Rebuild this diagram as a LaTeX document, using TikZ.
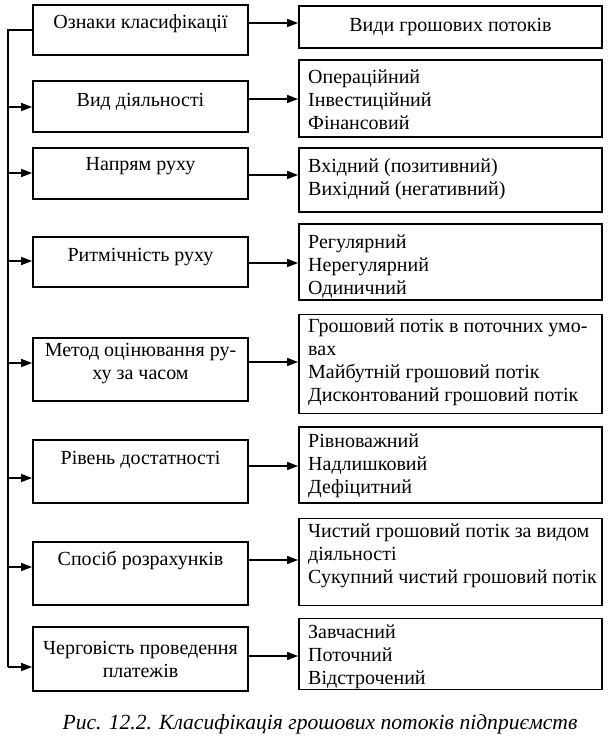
\documentclass[tikz,border=0pt]{standalone}
\usepackage{fontspec}
\setmainfont{Liberation Serif}
\usetikzlibrary{arrows.meta}
\newcommand\dfont{\fontsize{20}{23}\selectfont}
\newcommand\capfont{\fontsize{21.6}{25}\selectfont\itshape}
\begin{document}
\begin{tikzpicture}[x=1pt,y=-1pt,
  box/.style={draw, line width=1.8pt, inner sep=0pt},
  lbox/.style={box, minimum width=215pt},
  rbox/.style={box, minimum width=303pt},
  ltext/.style={font=\dfont, align=center, inner sep=0pt, anchor=north},
  rtext/.style={font=\dfont, align=left, inner sep=0pt, anchor=north west},
  arr/.style={line width=1.5pt, -{Triangle[length=11pt,width=8pt]}},
  ln/.style={line width=1.5pt}]
\useasboundingbox (0,0) rectangle (612,748);
% left boxes
\node[lbox, minimum height=50pt] (l1) at (140.5,30) {};
\node[lbox, minimum height=51pt] (l2) at (140.5,106.5) {};
\node[lbox, minimum height=51pt] (l3) at (140.5,173.5) {};
\node[lbox, minimum height=50pt] (l4) at (140.5,262) {};
\node[lbox, minimum height=63pt] (l5) at (140.5,369.5) {};
\node[lbox, minimum height=63pt] (l6) at (140.5,471.5) {};
\node[lbox, minimum height=63pt] (l7) at (140.5,573.5) {};
\node[lbox, minimum height=64pt] (l8) at (140.5,659) {};
% right boxes
\node[rbox, minimum height=42pt] (r1) at (450.5,27) {};
\node[rbox, minimum height=77pt] (r2) at (450.5,98.5) {};
\node[rbox, minimum height=64pt] (r3) at (450.5,180) {};
\node[rbox, minimum height=76pt] (r4) at (450.5,262) {};
\node[rbox, minimum height=99pt] (r5) at (450.5,364) {};
\node[rbox, minimum height=76pt] (r6) at (450.5,465) {};
\node[rbox, minimum height=87pt] (r7) at (450.5,562) {};
\node[rbox, minimum height=71pt] (r8) at (450.5,654) {};
% left texts (north = baseline - 16.1)
\node[ltext] (t1) at (140.5,12) {\strut Ознаки класифікації};
\node[ltext] (t2) at (140.5,90) {\strut Вид діяльності};
\node[ltext] (t3) at (140.5,154) {\strut Напрям руху};
\node[ltext] (t4) at (140.5,245) {\strut Ритмічність руху};
\node[ltext] (t5) at (140.5,340) {\strut Метод оцінювання ру-\\ху за часом};
\node[ltext] (t6) at (140.5,448) {\strut Рівень достатності};
\node[ltext] (t7) at (140.5,549) {\strut Спосіб розрахунків};
\node[ltext] (t8) at (140.5,638) {\strut Черговість проведення\\платежів};
% right texts
\node[ltext] (s1) at (450.5,15) {\strut Види грошових потоків};
\node[rtext] (s2) at (308,67) {\strut Операційний\\Інвестиційний\\Фінансовий};
\node[rtext] (s3) at (308,156) {\strut Вхідний (позитивний)\\Вихідний (негативний)};
\node[rtext] (s4) at (308,232) {\strut Регулярний\\Нерегулярний\\Одиничний};
\node[rtext] (s5) at (308,316) {\strut Грошовий потік в поточних умо-\\вах\\Майбутній грошовий потік\\Дисконтований грошовий потік};
\node[rtext] (s6) at (308,431) {\strut Рівноважний\\Надлишковий\\Дефіцитний};
\node[rtext] (s7) at (308,521) {\strut Чистий грошовий потік за видом\\діяльності\\Сукупний чистий грошовий потік};
\node[rtext] (s8) at (308,622) {\strut Завчасний\\Поточний\\Відстрочений};
% caption
\node[font=\capfont, anchor=base, inner sep=0pt] (cap) at (320,729) {Рис. 12.2. Класифікація грошових потоків підприємств};
% spine
\coordinate (sp) at (8,30);
\coordinate (spend) at (8,667);
\draw[ln] (l1.west |- sp) -- (sp) -- (spend);
\draw[arr] (sp |- 0,107) -- (l2.west |- 0,107);
\draw[arr] (sp |- 0,173) -- (l3.west |- 0,173);
\draw[arr] (sp |- 0,261) -- (l4.west |- 0,261);
\draw[arr] (sp |- 0,363) -- (l5.west |- 0,363);
\draw[arr] (sp |- 0,478) -- (l6.west |- 0,478);
\draw[arr] (sp |- 0,567) -- (l7.west |- 0,567);
\draw[arr] (spend) -- (l8.west |- spend);
% right arrows
\draw[arr] (l1.east |- 0,23) -- (r1.west |- 0,23);
\draw[arr] (l2.east |- 0,99) -- (r2.west |- 0,99);
\draw[arr] (l3.east |- 0,175) -- (r3.west |- 0,175);
\draw[arr] (l4.east |- 0,263) -- (r4.west |- 0,263);
\draw[arr] (l5.east |- 0,362) -- (r5.west |- 0,362);
\draw[arr] (l6.east |- 0,466) -- (r6.west |- 0,466);
\draw[arr] (l7.east |- 0,560) -- (r7.west |- 0,560);
\draw[arr] (l8.east |- 0,656) -- (r8.west |- 0,656);
\end{tikzpicture}
\end{document}
